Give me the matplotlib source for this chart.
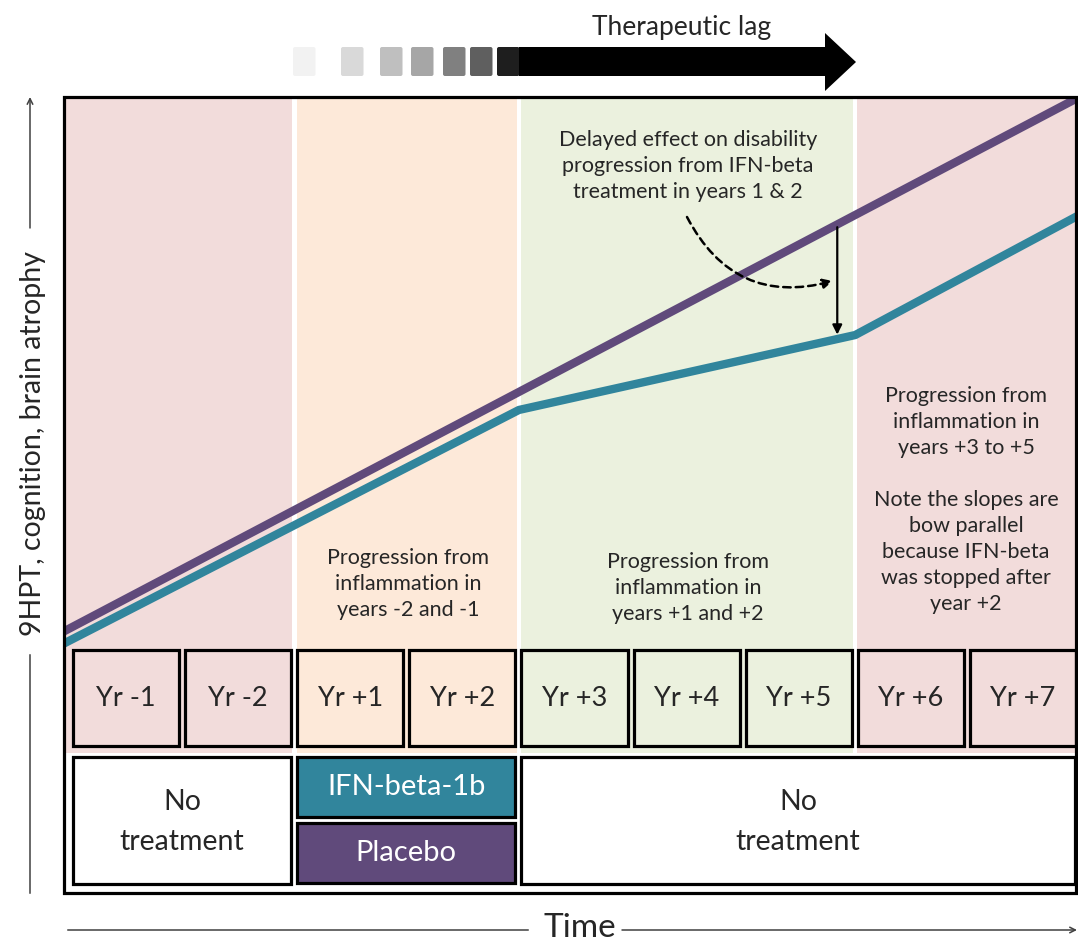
import matplotlib.pyplot as plt
import numpy as np
from matplotlib.patches import FancyBboxPatch, Polygon, Rectangle

W, H = 1078, 942
X0, SLOT = 70.5, 112.1      # pixel x of year slot 0 and slot width
Y0, UNIT = 648, 55.1        # pixel y of score 0 and pixels per score unit
INK = "#262626"
LW_BOX = 2.3

# data
year_labels = ["Yr -1", "Yr -2", "Yr +1", "Yr +2", "Yr +3", "Yr +4", "Yr +5", "Yr +6", "Yr +7"]
period_edges = [-0.06, 2, 4, 7, 9.0]
period_colors = ["#F2DCDB", "#FDE9D9", "#EBF1DE", "#F2DCDB"]
placebo_years = [-0.06, 9.0]
placebo_score = [0.30, 10.0]
ifn_years = [-0.06, 4.0, 7.0, 9.0]
ifn_score = [0.08, 4.32, 5.68, 7.86]
lag_shades = ["#F2F2F2", "#D9D9D9", "#BFBFBF", "#A6A6A6", "#808080", "#5F5F5F", "#1E1E1E"]
treatments = [
    ("No\ntreatment", 0, 2, "white", INK),
    ("No\ntreatment", 4, 9, "white", INK),
]
arms = [("IFN-beta-1b", "#31859C"), ("Placebo", "#604A7B")]
notes = [
    ("Delayed effect on disability\nprogression from IFN-beta\ntreatment in years 1 & 2", 688, 166),
    ("Progression from\ninflammation in\nyears -2 and -1", 408, 584),
    ("Progression from\ninflammation in\nyears +1 and +2", 688, 588),
    ("Progression from\ninflammation in\nyears +3 to +5\n\nNote the slopes are\nbow parallel\n"
     "because IFN-beta\nwas stopped after\nyear +2", 966, 500),
]

# layout (pixels)
FRAME = (64, 97, 1076, 893)
BAND_BOTTOM = 753
LAG_SQ_X = [293, 341, 380, 411, 443, 470, 497]
ARROW_YEAR = 6.84


def slot_px(i):
    return X0 + SLOT * i


def main():
    plt.rcParams.update({"font.family": ["Lato", "DejaVu Sans"]})
    fig = plt.figure(figsize=(W / 100, H / 100), dpi=100)

    # chart area: bands and the two trajectories, in years / score units
    left, top, right = FRAME[0], FRAME[1], FRAME[2]
    cax = fig.add_axes([left / W, 1 - BAND_BOTTOM / H, (right - left) / W, (BAND_BOTTOM - top) / H])
    cax.set_xlim((left - X0) / SLOT, (right - X0) / SLOT)
    cax.set_ylim((Y0 - BAND_BOTTOM) / UNIT, (Y0 - top) / UNIT)
    cax.axis("off")
    gap = 0.02
    for k, c in enumerate(period_colors):
        a, b = period_edges[k], period_edges[k + 1]
        cax.axvspan(a + (gap if k > 0 else 0), b - (gap if k < len(period_colors) - 1 else 0),
                    color=c, lw=0, zorder=0)
    cax.plot(placebo_years, placebo_score, color="#604A7B", lw=6, solid_capstyle="butt", zorder=3)
    cax.plot(ifn_years, ifn_score, color="#31859C", lw=6, solid_capstyle="butt", zorder=2)

    y_top = np.interp(ARROW_YEAR, placebo_years, placebo_score)
    y_bot = np.interp(ARROW_YEAR, ifn_years, ifn_score)
    cax.annotate("", xy=(ARROW_YEAR, y_bot + 0.08), xytext=(ARROW_YEAR, y_top - 0.05),
                 arrowprops=dict(arrowstyle="-|>", color="black", lw=1.6, mutation_scale=14,
                                 shrinkA=0, shrinkB=0), zorder=4)
    cax.annotate("", xy=(ARROW_YEAR - 0.04, (Y0 - 281) / UNIT),
                 xytext=((687 - X0) / SLOT, (Y0 - 217) / UNIT),
                 arrowprops=dict(arrowstyle="-|>", color="black", lw=1.8, ls=(0, (3, 2)),
                                 mutation_scale=14, shrinkA=0, shrinkB=0,
                                 connectionstyle="arc3,rad=0.4"), zorder=4)

    # overlay in pixel coordinates
    ax = fig.add_axes([0, 0, 1, 1])
    ax.set_xlim(0, W)
    ax.set_ylim(H, 0)
    ax.axis("off")
    ax.patch.set_alpha(0)

    for i, lab in enumerate(year_labels):
        x = slot_px(i) + 2.5
        ax.add_patch(Rectangle((x, 650), SLOT - 6, 96, fill=False, ec="black", lw=LW_BOX))
        ax.text(x + (SLOT - 6) / 2, 698, lab, ha="center", va="center", fontsize=19.5, color=INK)

    for lab, i0, i1, fc, tc in treatments:
        x = slot_px(i0) + 2.5
        x1 = min(slot_px(i1) - 3.5, FRAME[2] - 1)
        ax.add_patch(Rectangle((x, 757), x1 - x, 127, fc=fc, ec="black", lw=LW_BOX))
        ax.text((x + x1) / 2, 822, lab, ha="center", va="center", fontsize=20.5,
                color=tc, linespacing=1.62)

    x = slot_px(2) + 2.5
    x1 = slot_px(4) - 3.5
    for k, (lab, c) in enumerate(arms):
        y = 757 + k * 66
        ax.add_patch(Rectangle((x, y), x1 - x, 60, fc=c, ec="black", lw=LW_BOX))
        ax.text((x + x1) / 2, y + 30, lab, ha="center", va="center", fontsize=21, color="white")

    ax.add_patch(Rectangle((FRAME[0], FRAME[1]), FRAME[2] - FRAME[0], FRAME[3] - FRAME[1],
                           fill=False, ec="black", lw=2.3, zorder=5))

    for txt, x, y in notes:
        ax.text(x, y, txt, ha="center", va="center", fontsize=15.5, color=INK, linespacing=1.38)

    # therapeutic lag arrow
    for c, x in zip(lag_shades, LAG_SQ_X):
        ax.add_patch(FancyBboxPatch((x, 47), 22.5, 29, boxstyle="round,pad=0,rounding_size=2",
                                    fc=c, ec="none"))
    ax.add_patch(Polygon([(519, 47), (825, 47), (825, 33), (856, 62), (825, 91), (825, 76), (519, 76)],
                         closed=True, fc="black", ec="none"))
    ax.text(682, 27, "Therapeutic lag", ha="center", va="center", fontsize=19, color=INK)

    # axis labels
    ax.text(33, 444, "9HPT, cognition, brain atrophy", rotation=90, ha="center", va="center",
            fontsize=20.5, color=INK)
    ax.annotate("", xy=(30, 97), xytext=(30, 228),
                arrowprops=dict(arrowstyle="->", color="#404040", lw=1.1, shrinkA=0, shrinkB=0))
    ax.plot([30, 30], [655, 893], color="#404040", lw=1.1)
    ax.text(580, 928, "Time", ha="center", va="center", fontsize=24, color=INK)
    ax.plot([68, 528], [930, 930], color="#404040", lw=1.1)
    ax.annotate("", xy=(1077, 930), xytext=(622, 930),
                arrowprops=dict(arrowstyle="->", color="#404040", lw=1.1, shrinkA=0, shrinkB=0))

    fig.savefig("out.png", dpi=100)
    plt.close(fig)


if __name__ == "__main__":
    main()
